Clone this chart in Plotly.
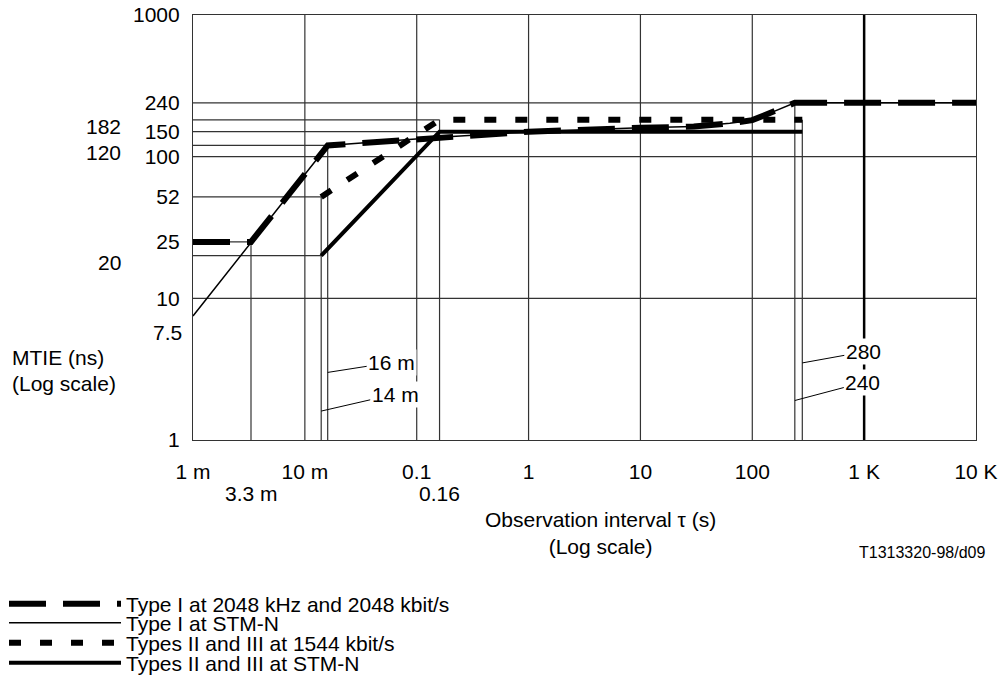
import math
import plotly.graph_objects as go

# ---------------- data ----------------
# Type I at 2048 kHz and 2048 kbit/s
tau_t1_2048 = [0.001, 0.0033, 0.016, 0.16, 1, 10, 30, 63, 100, 135, 176, 215, 240, 10000]
mtie_t1_2048 = [25, 25, 120, 137, 150, 160, 163, 172, 181, 199, 216, 230, 240, 240]
# Type I at STM-N
tau_t1_stm = [0.001, 0.016, 0.16, 1, 10, 30, 63, 100, 135, 176, 215, 240, 10000]
mtie_t1_stm = [7.5, 120, 137, 150, 160, 163, 172, 181, 199, 216, 230, 240, 240]
# Types II and III at 1544 kbit/s
tau_t23_1544 = [0.014, 0.16, 280]
mtie_t23_1544 = [52, 182, 182]
# Types II and III at STM-N
tau_t23_stm = [0.014, 0.16, 280]
mtie_t23_stm = [20, 150, 150]

series_names = [
    "Type I at 2048 kHz and 2048 kbit/s",
    "Type I at STM-N",
    "Types II and III at 1544 kbit/s",
    "Types II and III at STM-N",
]

x_tick_vals = [0.001, 0.01, 0.1, 1, 10, 100, 1000, 10000]
x_tick_text = ["1 m", "10 m", "0.1", "1", "10", "100", "1 K", "10 K"]
x_extra_vals = [0.0033, 0.16]
x_extra_text = ["3.3 m", "0.16"]

y_tick_vals = [1, 10, 25, 52, 100, 150, 240, 1000]
y_tick_text = ["1", "10", "25", "52", "100", "150", "240", "1000"]
y_low_val = 7.5
y_low_text = "7.5"
y_extra_vals = [20, 120, 182]
y_extra_text = ["20", "120", "182"]

# reference lines: horizontal (value, x end) from left edge; vertical (x, value top) from bottom
h_full = [10, 100, 240]
h_part = [(25, 0.0033), (20, 0.014), (52, 0.014), (120, 0.016), (150, 0.16), (182, 0.16)]
v_full = [0.01, 0.1, 1, 10, 100]
v_thick = [1000]
v_part = [(0.0033, 25), (0.014, 52), (0.016, 120), (0.16, 182), (240, 240), (280, 182)]

# leader labels: (tau, mtie at attach point, text, ax, ay)
leaders = [
    (0.016, 3.0, "16 m", 64, -10),
    (0.014, 1.6, "14 m", 74, -17),
    (280, 3.5, "280", 61, -11),
    (240, 1.9, "240", 68, -18),
]

# ---------------- layout constants ----------------
W, H = 1002, 698
L, R, T, B = 193, 26, 15, 258
PW, PH = W - L - R, H - T - B
FONT = "Liberation Sans, Arial, sans-serif"
FS = 21
X_MIN, X_MAX = 0.001, 10000
Y_MIN, Y_MAX = 1, 1000


def px(x):
    return (x - L) / PW


def py(y):
    return (T + PH - y) / PH


def tfont(size=FS):
    return dict(size=size, family=FONT, color="black")


fig = go.Figure()

fig.add_trace(go.Scatter(
    x=tau_t1_2048, y=mtie_t1_2048, mode="lines", name=series_names[0],
    line=dict(color="black", width=6, dash="37px,17px"), legend="legend",
))
fig.add_trace(go.Scatter(
    x=tau_t1_stm, y=mtie_t1_stm, mode="lines", name=series_names[1],
    line=dict(color="black", width=1.5), legend="legend2",
))
fig.add_trace(go.Scatter(
    x=tau_t23_1544, y=mtie_t23_1544, mode="lines", name=series_names[2],
    line=dict(color="black", width=6, dash="12px,19px"), legend="legend3",
))
fig.add_trace(go.Scatter(
    x=tau_t23_stm, y=mtie_t23_stm, mode="lines", name=series_names[3],
    line=dict(color="black", width=4), legend="legend4",
))

shapes = []
gl = dict(color="#333", width=1.2)
for v in h_full:
    shapes.append(dict(type="line", xref="x", yref="y", x0=X_MIN, x1=X_MAX, y0=v, y1=v, line=gl, layer="below"))
for v, xe in h_part:
    shapes.append(dict(type="line", xref="x", yref="y", x0=X_MIN, x1=xe, y0=v, y1=v, line=gl, layer="below"))
for v in v_full:
    shapes.append(dict(type="line", xref="x", yref="y", x0=v, x1=v, y0=Y_MIN, y1=Y_MAX, line=gl, layer="below"))
for v in v_thick:
    shapes.append(dict(type="line", xref="x", yref="y", x0=v, x1=v, y0=Y_MIN, y1=Y_MAX,
                       line=dict(color="black", width=2.5), layer="below"))
for xv, top in v_part:
    shapes.append(dict(type="line", xref="x", yref="y", x0=xv, x1=xv, y0=Y_MIN, y1=top, line=gl, layer="below"))

annotations = []
for v, t in zip(x_extra_vals, x_extra_text):
    annotations.append(dict(x=math.log10(v), y=py(493), xref="x", yref="paper", text=t, showarrow=False,
                            xanchor="center", yanchor="middle", font=tfont()))
for v, t in zip(y_extra_vals, y_extra_text):
    annotations.append(dict(x=px(123), y=math.log10(v), xref="paper", yref="y", text=t, showarrow=False,
                            xanchor="right", yanchor="middle", yshift=-7, font=tfont()))
annotations.append(dict(x=px(184), y=math.log10(y_low_val), xref="paper", yref="y", text=y_low_text,
                        showarrow=False, xanchor="right", yanchor="middle", yshift=-16, font=tfont()))
for xv, yv, t, ax, ay in leaders:
    annotations.append(dict(x=math.log10(xv), y=math.log10(yv), xref="x", yref="y", text=t,
                            showarrow=True, arrowhead=0, arrowwidth=1, arrowcolor="black",
                            ax=ax, ay=ay, standoff=0, bgcolor="white", font=tfont()))
annotations.append(dict(x=px(10), y=py(357), xref="paper", yref="paper", text="MTIE (ns)",
                        showarrow=False, xanchor="left", yanchor="middle", font=tfont()))
annotations.append(dict(x=px(10), y=py(383), xref="paper", yref="paper", text="(Log scale)",
                        showarrow=False, xanchor="left", yanchor="middle", font=tfont()))
annotations.append(dict(x=px(600), y=py(533), xref="paper", yref="paper",
                        text="Observation interval τ (s)<br>(Log scale)",
                        showarrow=False, xanchor="center", yanchor="middle", align="center", font=tfont()))
annotations.append(dict(x=px(922), y=py(552), xref="paper", yref="paper", text="T1313320-98/d09",
                        showarrow=False, xanchor="center", yanchor="middle", font=tfont(16)))

leg_rows = [604, 623, 643, 663]
legend_common = dict(xref="container", yref="container", x=4 / W, xanchor="left", yanchor="middle",
                     itemwidth=112, bgcolor="rgba(0,0,0,0)", borderwidth=0,
                     font=tfont(), itemclick=False, itemdoubleclick=False)

fig.update_layout(
    width=W, height=H,
    margin=dict(l=L, r=R, t=T, b=B, pad=0, autoexpand=False),
    paper_bgcolor="white", plot_bgcolor="white",
    font=dict(family=FONT, size=FS, color="black"),
    showlegend=True,
    legend=dict(**legend_common, y=1 - leg_rows[0] / H),
    legend2=dict(**legend_common, y=1 - leg_rows[1] / H),
    legend3=dict(**legend_common, y=1 - leg_rows[2] / H),
    legend4=dict(**legend_common, y=1 - leg_rows[3] / H),
    xaxis=dict(type="log", range=[math.log10(X_MIN), math.log10(X_MAX)],
               tickvals=x_tick_vals, ticktext=x_tick_text,
               showgrid=False, zeroline=False, showline=True, mirror=True,
               linecolor="#333", linewidth=1.2, automargin=False,
               ticks="outside", ticklen=13, tickcolor="rgba(0,0,0,0)",
               tickfont=tfont()),
    yaxis=dict(type="log", range=[math.log10(Y_MIN), math.log10(Y_MAX)],
               tickvals=y_tick_vals, ticktext=y_tick_text,
               showgrid=False, zeroline=False, showline=True, mirror=True,
               linecolor="#333", linewidth=1.2, automargin=False,
               ticks="outside", ticklen=8, tickcolor="rgba(0,0,0,0)",
               tickfont=tfont()),
    shapes=shapes,
    annotations=annotations,
)

fig.write_html("out.html", config={"displayModeBar": False},
               post_script="document.body.style.margin='0';document.body.style.overflow='hidden';")
